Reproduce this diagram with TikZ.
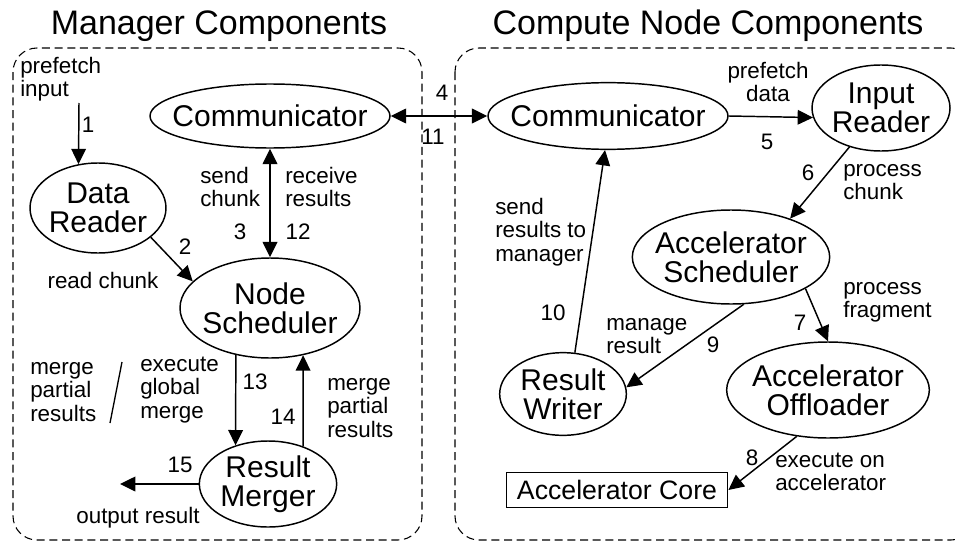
\documentclass[tikz,border=0pt]{standalone}
\usepackage{fontspec}
\setmainfont{Liberation Sans}
\usetikzlibrary{shapes.geometric,arrows.meta}

\begin{document}
\begin{tikzpicture}[x=0.75pt,y=-0.75pt,
		comp/.style={ellipse,draw,line width=1.1pt,inner sep=0pt},
		ctext/.style={inner sep=0pt,align=center,font=\fontsize{22.5}{22}\selectfont},
		lbl/.style={inner sep=0pt,align=left,anchor=west,font=\fontsize{16.8}{17.5}\selectfont},
		num/.style={inner sep=0pt,font=\fontsize{16.8}{17.5}\selectfont},
		arr/.style={line width=1.1pt,-{Triangle[length=11.5pt,width=11pt]}},
		dbl/.style={line width=1.1pt,{Triangle[length=11.5pt,width=11pt]}-{Triangle[length=11.5pt,width=11pt]}},
		group/.style={dash pattern=on 6pt off 3.5pt,line width=0.8pt,rounded corners=18pt}]
	\useasboundingbox (0,0) rectangle (955,542);
	\draw[group] (13,48) rectangle (422,540);
	\draw[group] (455,48) rectangle (975,540);
	\node[anchor=base,font=\fontsize{25.5}{30}\selectfont] (mtitle) at (219,35) {Manager Components};
	\node[anchor=base,font=\fontsize{25.5}{30}\selectfont] (ctitle) at (708,35) {Compute Node Components};
	
	\node[comp,minimum width=180pt,minimum height=48pt,label={[ctext]center:Communicator}] (mcomm) at (270,116) {};
	\node[comp,minimum width=102pt,minimum height=67.5pt,label={[ctext]center:Data\\Reader}] (dreader) at (98,208) {};
	\node[comp,minimum width=135pt,minimum height=75pt,label={[ctext]center:Node\\Scheduler}] (nsched) at (270,308) {};
	\node[comp,minimum width=103pt,minimum height=64.5pt,label={[ctext]center:Result\\Merger}] (rmerger) at (268,484) {};
	\node[comp,minimum width=180pt,minimum height=50pt,label={[ctext]center:Communicator}] (ccomm) at (608,116) {};
	\node[comp,minimum width=103.5pt,minimum height=64.5pt,label={[ctext]center:Input\\Reader}] (ireader) at (881,108) {};
	\node[comp,minimum width=148pt,minimum height=70.5pt,label={[ctext]center:Accelerator\\Scheduler}] (asched) at (731,257) {};
	\node[comp,minimum width=95pt,minimum height=62pt,label={[ctext]center:Result\\Writer}] (rwriter) at (563,394) {};
	\node[comp,minimum width=152pt,minimum height=72pt,label={[ctext]center:Accelerator\\Offloader}] (aoffl) at (828,390) {};
	\node[draw,line width=1.1pt,minimum width=166pt,minimum height=26pt,inner sep=0pt,font=\fontsize{20}{22}\selectfont] (acore) at (617,490) {Accelerator Core};
	
	\coordinate (pin) at (79,103);
	\coordinate (mout) at (120,484);
	
	\draw[arr] (pin) -- (dreader.114);
	\draw[arr] (dreader.-29) -- (nsched.161);
	\draw[dbl] (mcomm.south) -- (nsched.north);
	\draw[dbl] (mcomm.east) -- (ccomm.west);
	\draw[arr] (ccomm.east) -- (ireader.188);
	\draw[arr] (ireader.231) -- (asched.33);
	\draw[arr] (asched.-23) -- (aoffl.north);
	\draw[arr] (aoffl.236) -- (acore.east);
	\draw[arr] (asched.-75) -- (rwriter.6);
	\draw[arr] (rwriter.74) -- (ccomm.265);
	\draw[arr] (nsched.-126) -- (rmerger.130);
	\draw[arr] (rmerger.47) -- (nsched.-55);
	\draw[arr] (rmerger.west) -- (mout);
	\draw[line width=1pt] (122,362) -- (110,423);
	
	\node[lbl] (l1) at (20,79) {prefetch\\input};
	\node[num] (n1) at (88,125) {1};
	\node[num] (n2) at (185,247) {2};
	\node[num] (lrc) at (103,280) {read chunk};
	\node[lbl] (l3) at (200,187) {send\\chunk};
	\node[lbl] (l12) at (285,187) {receive\\results};
	\node[num] (n3) at (240,232) {3};
	\node[num] (n12) at (298,232) {12};
	\node[num] (n4) at (442,93) {4};
	\node[num] (n11) at (433,137) {11};
	\node[lbl] (l13a) at (30,392) {merge\\partial\\results};
	\node[lbl] (l13b) at (140,390) {execute\\global\\merge};
	\node[num] (n13) at (255,382) {13};
	\node[num] (n14) at (283,417) {14};
	\node[lbl] (l14) at (327,408) {merge\\partial\\results};
	\node[num] (n15) at (180,465) {15};
	\node[num] (lout) at (138,518) {output result};
	
	\node[num,align=center] (l5) at (768,82) {prefetch\\data};
	\node[num] (n5) at (767,142) {5};
	\node[num] (n6) at (808,173) {6};
	\node[lbl] (l6) at (843,182) {process\\chunk};
	\node[lbl] (l10) at (495,232) {send\\results to\\manager};
	\node[num] (n10) at (553,313) {10};
	\node[lbl] (l9) at (606,336) {manage\\result};
	\node[num] (n9) at (713,345) {9};
	\node[num] (n7) at (800,323) {7};
	\node[lbl] (l7) at (843,302) {process\\fragment};
	\node[num] (n8) at (752,458) {8};
	\node[lbl] (l8) at (775,472) {execute on\\accelerator};
\end{tikzpicture}
\end{document}
